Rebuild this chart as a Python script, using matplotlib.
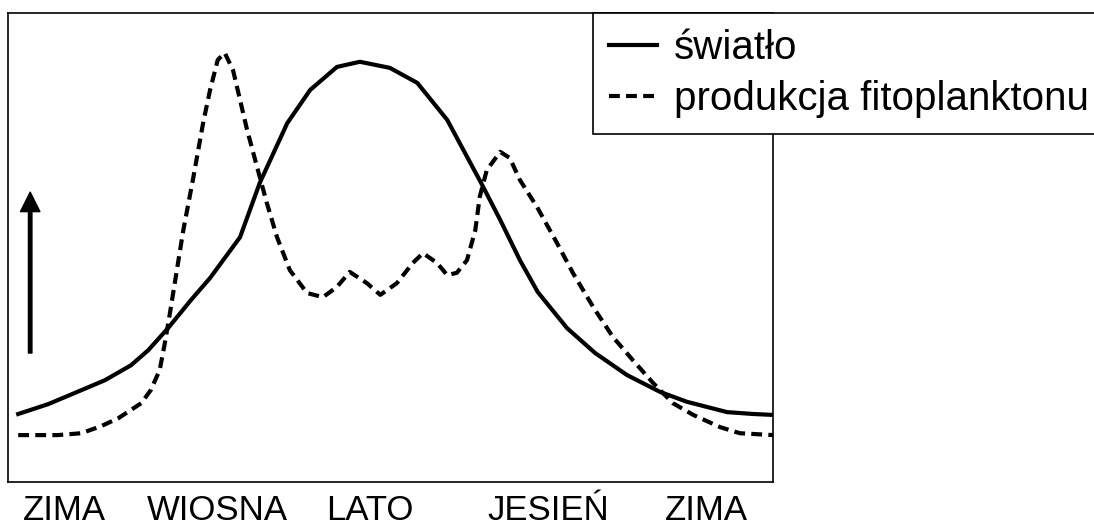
import matplotlib
matplotlib.use("Agg")
import matplotlib.pyplot as plt

plt.rcParams['font.family'] = ['Liberation Sans', 'DejaVu Sans']

# swiatlo (solid) - month position vs relative level
light_x = [0.16, 0.63, 1.05, 1.52, 1.93, 2.20, 2.51, 2.87, 3.17, 3.64, 3.95,
           4.38, 4.74, 5.16, 5.52, 5.99, 6.42, 6.89, 7.42, 7.72, 8.03, 8.31,
           8.77, 9.21, 9.71, 10.23, 10.65, 11.28, 11.69, 12.0]
light_y = [14.5, 16.6, 19.0, 21.7, 24.9, 28.1, 32.8, 38.8, 43.5, 52.2, 63.8,
           76.5, 83.6, 88.5, 89.6, 88.3, 85.1, 77.2, 63.8, 55.9, 47.3, 40.5,
           32.8, 27.5, 22.8, 19.2, 17.1, 14.9, 14.5, 14.3]

# produkcja fitoplanktonu (dashed)
phyto_x = [0.16, 0.78, 1.15, 1.46, 1.73, 2.09, 2.24, 2.38, 2.46, 2.54, 2.75,
           2.90, 3.06, 3.17, 3.29, 3.40, 3.53, 3.75, 3.95, 4.06, 4.22, 4.42,
           4.69, 4.94, 5.16, 5.36, 5.63, 5.84, 6.10, 6.35, 6.51, 6.73, 6.89,
           7.04, 7.20, 7.33, 7.40, 7.51, 7.72, 7.87, 8.03, 8.30, 8.61, 8.86,
           9.18, 9.49, 9.80, 10.12, 10.43, 10.75, 11.17, 11.48, 12.0]
phyto_y = [10.0, 10.0, 10.4, 11.9, 13.6, 16.8, 19.6, 23.9, 29.6, 36.0, 53.7,
           64.4, 76.5, 83.6, 90.0, 91.5, 87.8, 75.1, 65.0, 59.5, 52.2, 45.2,
           40.3, 39.4, 41.6, 44.8, 42.4, 39.9, 42.4, 46.7, 48.8, 46.7, 44.1,
           44.6, 47.3, 53.7, 60.8, 66.5, 70.4, 69.1, 64.4, 58.6, 51.0, 44.6,
           37.3, 30.9, 26.0, 21.1, 16.8, 14.3, 11.7, 10.4, 10.0]

season_pos = [0.89, 3.28, 5.68, 8.47, 10.96]
season_labels = ['ZIMA', 'WIOSNA', 'LATO', 'JESIEŃ', 'ZIMA']

fig = plt.figure(figsize=(10.94, 5.32), dpi=100)
ax = fig.add_axes([8 / 1094, 50 / 532, 765 / 1094, 469 / 532])

ax.plot(light_x, light_y, color='black', lw=3, label='światło')
ax.plot(phyto_x, phyto_y, color='black', lw=3, dashes=(2.6, 1.5),
        label='produkcja fitoplanktonu')

ax.set_xlim(0, 12)
ax.set_ylim(0, 100)
ax.set_yticks([])
ax.set_xticks(season_pos)
ax.set_xticklabels(season_labels, fontsize=25)
ax.tick_params(axis='x', length=0, pad=9)
for s in ax.spines.values():
    s.set_linewidth(1.2)
    s.set_color('black')

# upward arrow on the left
ax.annotate('', xy=(0.029, 0.618), xytext=(0.029, 0.275),
            xycoords='axes fraction',
            arrowprops=dict(facecolor='black', edgecolor='black', width=2.5,
                            headwidth=14, headlength=14, shrink=0))

leg = fig.legend(loc='upper left', bbox_to_anchor=(593 / 1094, 1 - 13 / 532),
                 fontsize=29, frameon=True, fancybox=False, framealpha=1,
                 edgecolor='black', handlelength=1.2, handletextpad=0.4,
                 labelspacing=0.32, borderpad=0.4, borderaxespad=0)
leg.get_frame().set_linewidth(1.2)

fig.savefig('out.png', dpi=100)
